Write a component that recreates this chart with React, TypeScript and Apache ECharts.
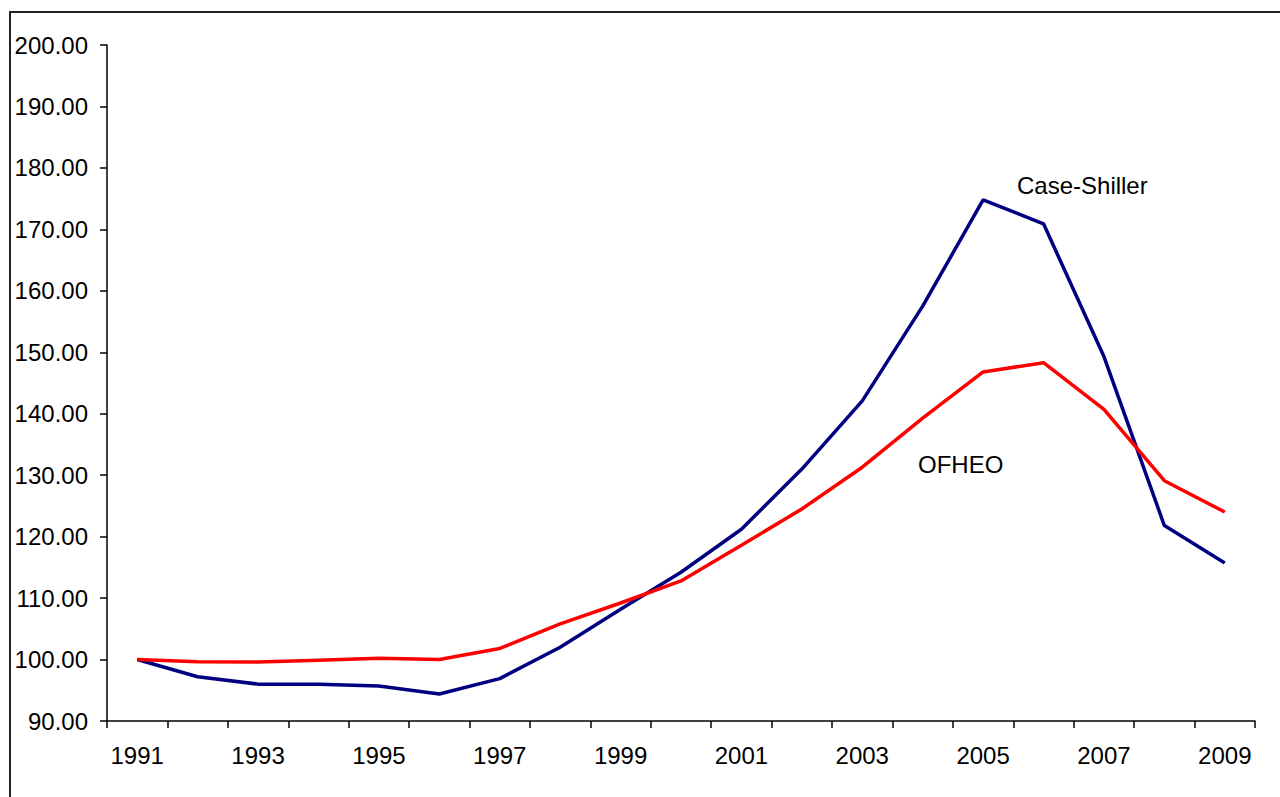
import React, { useEffect, useRef } from "react";
import * as echarts from "echarts";

const years = ["1991","1992","1993","1994","1995","1996","1997","1998","1999","2000","2001","2002","2003","2004","2005","2006","2007","2008","2009"];
const caseShiller = [100.0, 97.2, 96.0, 96.0, 95.7, 94.4, 96.9, 102.0, 108.2, 114.2, 121.2, 131.0, 142.1, 157.5, 174.8, 170.9, 149.3, 121.8, 115.7];
const ofheo = [100.0, 99.65, 99.6, 99.9, 100.2, 100.0, 101.8, 105.8, 109.2, 112.8, 118.6, 124.5, 131.3, 139.3, 146.8, 148.3, 140.7, 129.1, 124.0];
const yMin = 90;
const yMax = 200;
const yStep = 10;

const FONT = "'Liberation Sans', Arial, sans-serif";

export default function App() {
  const ref = useRef<HTMLDivElement>(null);
  useEffect(() => {
    if (!ref.current) return;
    const chart = echarts.init(ref.current, undefined, { renderer: "svg" });
    chart.setOption({
      animation: false,
      backgroundColor: "#ffffff",
      textStyle: { fontFamily: FONT },
      grid: { left: 107, top: 45, right: 25, bottom: 76, containLabel: false },
      xAxis: {
        type: "category",
        data: years,
        boundaryGap: true,
        axisLine: { show: true, lineStyle: { color: "#000", width: 1.5 } },
        axisTick: { show: true, alignWithLabel: false, interval: 0, length: 7, lineStyle: { color: "#000", width: 1.5 } },
        axisLabel: { interval: 1, color: "#000", fontSize: 24, fontFamily: FONT, margin: 22 },
        splitLine: { show: false },
      },
      yAxis: {
        type: "value",
        min: yMin,
        max: yMax,
        interval: yStep,
        axisLine: { show: true, lineStyle: { color: "#000", width: 1.5 } },
        axisTick: { show: true, length: 7, lineStyle: { color: "#000", width: 1.5 } },
        axisLabel: { color: "#000", fontSize: 24, fontFamily: FONT, margin: 19, formatter: (v: number) => v.toFixed(2) },
        splitLine: { show: false },
      },
      series: [
        {
          name: "Case-Shiller",
          type: "line",
          data: caseShiller,
          symbol: "none",
          lineStyle: { color: "#000080", width: 3.5 },
          itemStyle: { color: "#000080" },
        },
        {
          name: "OFHEO",
          type: "line",
          data: ofheo,
          symbol: "none",
          lineStyle: { color: "#ff0000", width: 3.5 },
          itemStyle: { color: "#ff0000" },
        },
      ],
      graphic: [
        {
          type: "rect",
          shape: { x: 10, y: 12, width: 1300, height: 820 },
          style: { fill: "none", stroke: "#222", lineWidth: 2 },
          silent: true,
        },
        {
          type: "text",
          left: 1017,
          top: 173,
          style: { text: "Case-Shiller", fill: "#000", font: `24px ${FONT}` },
        },
        {
          type: "text",
          left: 918,
          top: 452,
          style: { text: "OFHEO", fill: "#000", font: `24px ${FONT}` },
        },
      ],
    });
    return () => chart.dispose();
  }, []);
  return (
    <div
      ref={ref}
      style={{ position: "fixed", left: 0, top: 0, width: 1280, height: 797 }}
    />
  );
}
